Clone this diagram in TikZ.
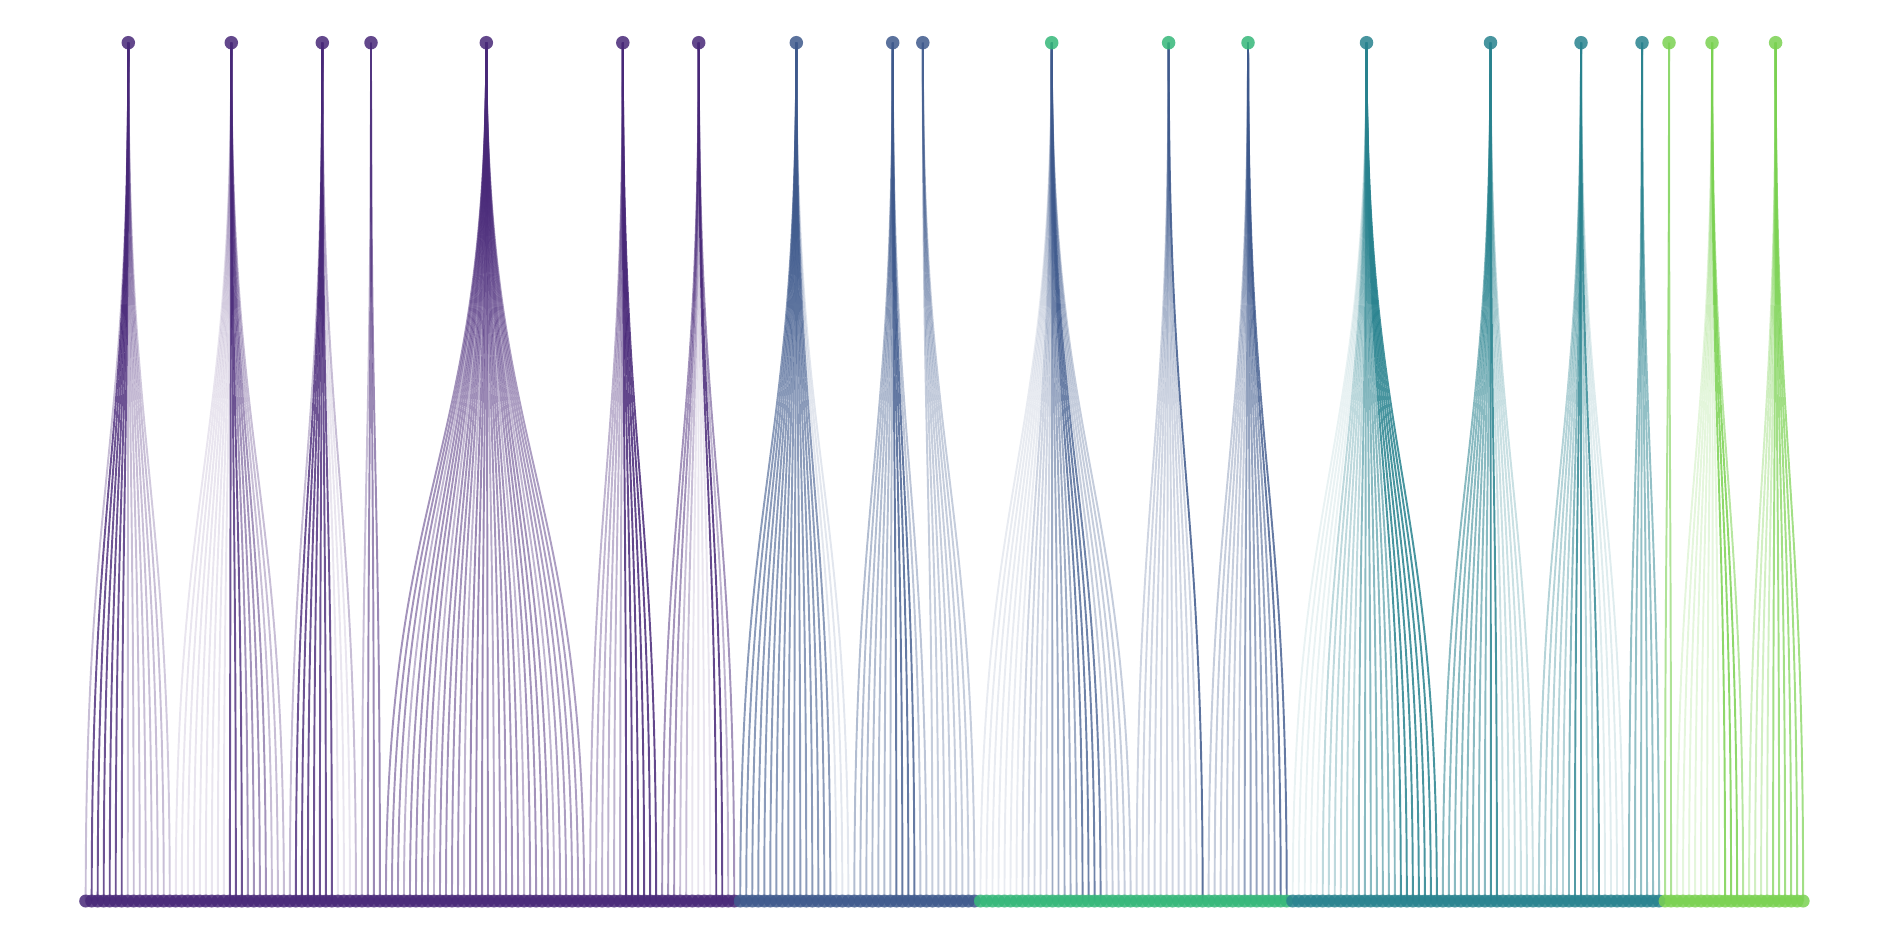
\documentclass[tikz,border=0pt]{standalone}
\pgfdeclarelayer{bg}
\pgfsetlayers{bg,main}
\definecolor{cP}{RGB}{72,40,120}
\definecolor{cB}{RGB}{62,89,140}
\definecolor{cG}{RGB}{53,183,121}
\definecolor{cT}{RGB}{40,130,142}
\definecolor{cL}{RGB}{122,209,81}
\tikzset{
  link/.style={line width=0.55pt},
  topdot/.style={circle, inner sep=0pt, minimum size=0.135cm, draw=none, fill opacity=0.85},
  botdot/.style={circle, inner sep=0pt, minimum size=0.13cm, draw=none, fill opacity=0.85}
}
\begin{document}
\begin{tikzpicture}[x=0.01cm,y=-0.01cm]
\useasboundingbox (0,0) rectangle (1889,944);
\coordinate (mid) at (0,471.85);
% top nodes
\foreach \j/\x/\c in {1/128.3/cP,2/231.3/cP,3/322.3/cP,4/371/cP,5/486.3/cP,6/622.8/cP,7/698.7/cP,
  8/796.3/cB,9/892.7/cB,10/922.8/cB,
  11/1051.7/cG,12/1168.6/cG,13/1248/cG,
  14/1366.5/cT,15/1490.5/cT,16/1581/cT,17/1642/cT,
  18/1669/cL,19/1712/cL,20/1775.6/cL}
  \node[topdot, fill=\c] (t\j) at (\x,42.7) {};
% bottom nodes
\foreach \s/\e/\c in {0/108/cP,109/148/cB,149/200/cG,201/262/cT,263/286/cL}
  \foreach \i in {\s,...,\e}
    \node[botdot, fill=\c] (b\i) at ({85.7+6.005*\i},901) {};
% links
\begin{pgfonlayer}{bg}
\foreach \j/\c/\segs in {
  1/cP/{0/0/.3,1/6/.8,7/13/.3,14/14/.25},
  2/cP/{15/23/.12,24/26/.8,27/30/.5,31/33/.3},
  3/cP/{34/34/.3,35/41/.8,42/44/.12,45/45/.3},
  4/cP/{46/46/.3,47/49/.55},
  5/cP/{50/52/.5,53/53/.35,54/57/.5,58/58/.35,59/62/.5,63/63/.35,64/67/.55,68/68/.4,69/72/.5,73/73/.35,74/77/.5,78/78/.35,79/83/.45},
  6/cP/{84/89/.35,90/95/.85},
  7/cP/{96/98/.5,99/100/.3,101/104/.12,105/106/.85,107/107/.35,108/108/.5},
  8/cB/{109/124/.6,125/127/.15},
  9/cB/{128/134/.4,135/138/.8,139/140/.35},
  10/cB/{141/148/.3},
  11/cB/{149/155/.12,156/160/.25,161/165/.5,166/169/.75,170/174/.3},
  12/cB/{175/185/.25,186/186/.85},
  13/cB/{187/192/.3,193/198/.55,199/200/.8},
  14/cT/{201/205/.1,206/211/.3,212/218/.55,219/225/.85},
  15/cT/{226/233/.55,234/235/.85,236/241/.25},
  16/cT/{242/246/.35,247/247/.55,248/249/.8,250/251/.35,252/252/.8,253/256/.15},
  17/cT/{257/262/.5},
  18/cL/{263/264/.6},
  19/cL/{265/272/.2,273/275/.85,276/276/.55},
  20/cL/{277/280/.35,281/286/.7}}
  \foreach \s/\e/\a in \segs
    \foreach \i in {\s,...,\e}
      \draw[link, draw=\c, draw opacity=\a] (b\i.center) .. controls (b\i |- mid) and (t\j |- mid) .. (t\j.center);
\end{pgfonlayer}
\end{tikzpicture}
\end{document}
